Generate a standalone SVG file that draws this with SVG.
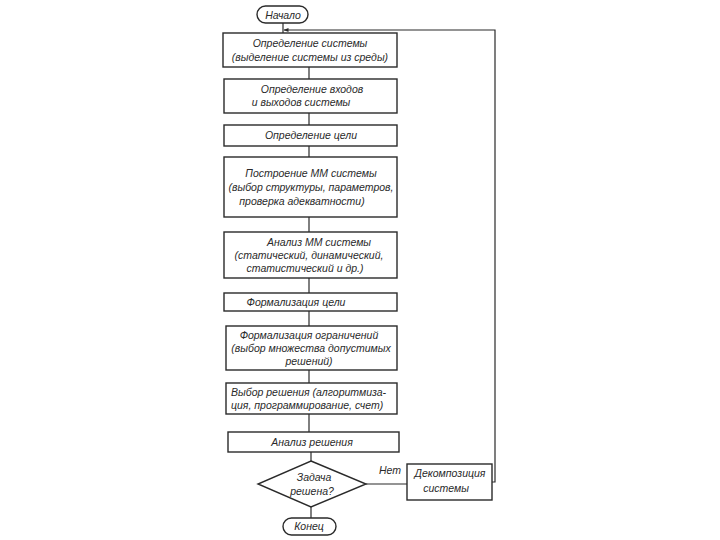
<svg xmlns="http://www.w3.org/2000/svg" width="720" height="540" viewBox="0 0 720 540">
<style>
  .box{fill:#fff;stroke:#2a2a2a;stroke-width:1.4}
  .ln{fill:none;stroke:#2a2a2a;stroke-width:1.2}
  text{font-family:"Liberation Sans","DejaVu Sans",sans-serif;font-style:italic;font-size:10.5px;fill:#2a2a2a;text-anchor:middle}
  .l{text-anchor:start}
</style>
<defs>
  <marker id="ah" viewBox="0 0 10 10" refX="9" refY="5" markerWidth="9" markerHeight="5" orient="auto" markerUnits="userSpaceOnUse">
    <path d="M0,1 L10,5 L0,9 z" fill="#2a2a2a"/>
  </marker>
</defs>
<rect width="720" height="540" fill="#fff"/>
<g id="connectors">
  <line class="ln" x1="283" y1="23" x2="283" y2="33"/>
  <polyline class="ln" points="492,482 495,482 495,30 284,30" marker-end="url(#ah)"/>
  <line class="ln" x1="309" y1="67" x2="309" y2="79"/>
  <line class="ln" x1="309" y1="113" x2="309" y2="125"/>
  <line class="ln" x1="309" y1="146" x2="309" y2="157"/>
  <line class="ln" x1="309" y1="217" x2="309" y2="232"/>
  <line class="ln" x1="309" y1="278" x2="309" y2="293"/>
  <line class="ln" x1="309" y1="311" x2="309" y2="326"/>
  <line class="ln" x1="309" y1="370" x2="309" y2="383"/>
  <line class="ln" x1="309" y1="414" x2="309" y2="432"/>
  <line class="ln" x1="311" y1="452" x2="311" y2="461"/>
  <line class="ln" x1="366" y1="484" x2="407" y2="484"/>
  <line class="ln" x1="311" y1="507" x2="311" y2="518"/>
  <text x="390" y="474">Нет</text>
</g>
<g id="start">
  <rect class="box" x="257" y="6" width="51" height="17" rx="8.5"/>
  <text x="283" y="18.5">Начало</text>
</g>
<g id="n1">
  <rect class="box" x="223" y="33" width="174" height="34"/>
  <text x="310" y="47">Определение  системы</text>
  <text x="310" y="61">(выделение  системы из среды)</text>
</g>
<g id="n2">
  <rect class="box" x="224" y="79" width="173" height="34"/>
  <text x="312" y="93">Определение входов</text>
  <text x="301" y="106">и выходов  системы</text>
</g>
<g id="n3">
  <rect class="box" x="224" y="125" width="173" height="21"/>
  <text x="311" y="139">Определение цели</text>
</g>
<g id="n4">
  <rect class="box" x="224" y="157" width="173" height="60"/>
  <text x="311" y="177">Построение ММ системы</text>
  <text x="311" y="191">(выбор структуры, параметров,</text>
  <text x="302" y="205">проверка  адекватности)</text>
</g>
<g id="n5">
  <rect class="box" x="224" y="232" width="173" height="46"/>
  <text x="319" y="246">Анализ ММ системы</text>
  <text x="309" y="259">(статический, динамический,</text>
  <text x="305" y="272">статистический  и др.)</text>
</g>
<g id="n6">
  <rect class="box" x="224" y="293" width="173" height="18"/>
  <text x="296" y="306">Формализация  цели</text>
</g>
<g id="n7">
  <rect class="box" x="226" y="326" width="171" height="44"/>
  <text x="309" y="339">Формализация ограничений</text>
  <text x="311" y="352">(выбор множества  допустимых</text>
  <text x="309" y="365">решений)</text>
</g>
<g id="n8">
  <rect class="box" x="226" y="383" width="171" height="31"/>
  <text class="l" x="231" y="396">Выбор решения (алгоритмиза-</text>
  <text class="l" x="231" y="409">ция, программирование, счет)</text>
</g>
<g id="n9">
  <rect class="box" x="228" y="432" width="171" height="20"/>
  <text x="312" y="446">Анализ решения</text>
</g>
<g id="decision">
  <polygon class="box" points="311,461 366,484 311,507 258,484"/>
  <text x="314" y="481">Задача</text>
  <text x="312" y="495">решена?</text>
</g>
<g id="decomp">
  <rect class="box" x="407" y="464" width="85" height="36"/>
  <text x="450" y="477">Декомпозиция</text>
  <text x="446" y="492">системы</text>
</g>
<g id="end">
  <rect class="box" x="283" y="518" width="53" height="17" rx="8.5"/>
  <text x="309" y="530">Конец</text>
</g>
</svg>
